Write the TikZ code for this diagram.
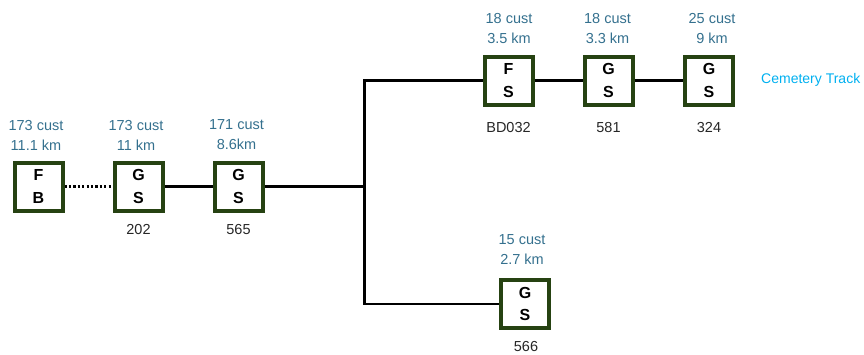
\documentclass[tikz,border=0pt]{standalone}
\usepackage{fontspec}
\setmainfont{Liberation Sans}
\begin{document}
\definecolor{boxgreen}{RGB}{38,66,18}
\definecolor{infoblue}{RGB}{52,112,142}
\definecolor{trackblue}{RGB}{0,176,240}
\begin{tikzpicture}[x=1pt,y=-1pt,
  unit/.style={draw=boxgreen, line width=4pt, fill=white, minimum width=48pt,
    minimum height=48pt, inner sep=0pt, align=center,
    font=\fontsize{16}{22.5}\selectfont\bfseries},
  info/.style={text=infoblue, align=center, inner sep=0pt,
    font=\fontsize{14.5}{20}\selectfont},
  tag/.style={text=black!85, inner sep=0pt, font=\fontsize{14.5}{16}\selectfont},
  feeder/.style={line width=2.4pt, black}]
\useasboundingbox (0,0) rectangle (864,354);

% main run
\node[unit] (fb)  at (38.5,186.5) {F\\B};
\node[unit] (u202) at (138.5,186.5) {G\\S};
\node[unit] (u565) at (238.5,186.5) {G\\S};
% upper branch
\node[unit] (bd032) at (508.5,80.5) {F\\S};
\node[unit] (u581) at (608.5,80.5) {G\\S};
\node[unit] (u324) at (709,80.5) {G\\S};
% lower branch
\node[unit] (u566) at (525,304) {G\\S};

% branch point
\coordinate (tee) at (364.5,186.5);
\coordinate (up) at (364.5,80.5);
\coordinate (down) at (364.5,304);

\draw[line width=2.6pt, dash pattern=on 2.2pt off 2.2pt, black] (fb) -- (u202);
\draw[feeder] (u202) -- (u565);
\draw[feeder] (u565.east) -- (tee);
\draw[feeder, line join=miter] (bd032.west) -- (up) -- (down) -- (u566.west);
\draw[feeder] (bd032) -- (u581);
\draw[feeder] (u581) -- (u324);

% customer counts and lengths
\node[info] (i1) at (36,135) {173 cust\\11.1 km};
\node[info] (i2) at (136,135) {173 cust\\11 km};
\node[info] (i3) at (236.5,135) {171 cust\\8.6km};
\node[info] (i4) at (509,28.5) {18 cust\\3.5 km};
\node[info] (i5) at (607.5,28.5) {18 cust\\3.3 km};
\node[info] (i6) at (712,28.5) {25 cust\\9 km};
\node[info] (i7) at (522,250) {15 cust\\2.7 km};

% unit numbers
\node[tag] (t202) at (138.5,230) {202};
\node[tag] (t565) at (238.5,230) {565};
\node[tag] (tbd) at (508.5,128) {BD032};
\node[tag] (t581) at (608.5,128) {581};
\node[tag] (t324) at (709,128) {324};
\node[tag] (t566) at (526,346.5) {566};

\node[text=trackblue, inner sep=0pt, anchor=west, font=\fontsize{14}{16}\selectfont] (track) at (761,80) {Cemetery Track};
\end{tikzpicture}
\end{document}
